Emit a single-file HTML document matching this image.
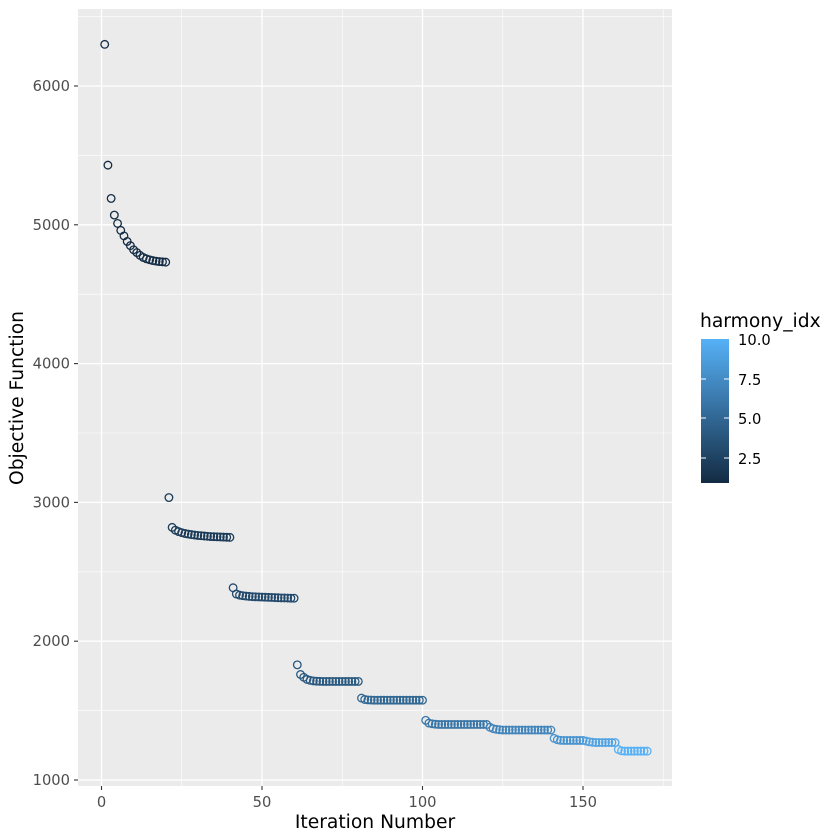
<!DOCTYPE html>
<html><head><meta charset="utf-8"><style>body{margin:0;background:#fff}svg{display:block}</style></head><body>
<svg id="s" width="840" height="840" xmlns="http://www.w3.org/2000/svg" font-family="DejaVu Sans, Liberation Sans, sans-serif">
<defs><linearGradient id="g" x1="0" y1="1" x2="0" y2="0"><stop offset="0" stop-color="#132B43"/><stop offset="1" stop-color="#56B1F7"/></linearGradient></defs>
<rect x="78" y="9" width="594" height="777" fill="#EBEBEB"/>
<g id="grid"></g>
<g id="pts" fill="none" stroke-width="1.3"></g>
<g id="ax" fill="#4D4D4D" font-size="14.7"></g>
<text x="375" y="828" font-size="18.7" text-anchor="middle" fill="#000">Iteration Number</text>
<text transform="translate(23,398) rotate(-90)" font-size="18.7" text-anchor="middle" fill="#000">Objective Function</text>
<text x="700" y="327" font-size="18.7" fill="#000">harmony_idx</text>
<rect x="701" y="339" width="28" height="144" fill="url(#g)"/>
<g stroke="#fff" stroke-width="1"><line x1="701" y1="379" x2="706" y2="379"/><line x1="724" y1="379" x2="729" y2="379"/><line x1="701" y1="418" x2="706" y2="418"/><line x1="724" y1="418" x2="729" y2="418"/><line x1="701" y1="458" x2="706" y2="458"/><line x1="724" y1="458" x2="729" y2="458"/></g>
<g font-size="14.7" fill="#000"><text x="738" y="345">10.0</text><text x="738" y="385">7.5</text><text x="738" y="424">5.0</text><text x="738" y="464">2.5</text></g>
</svg>
<script>
var NS="http://www.w3.org/2000/svg";
function X(v){return 101.5+v*3.21}function Y(v){return 780-(v-1000)*0.1388}
function el(p,t,a,txt){var e=document.createElementNS(NS,t);for(var k in a)e.setAttribute(k,a[k]);if(txt!=null)e.textContent=txt;document.getElementById(p).appendChild(e);return e}
for(var v=-25;v<=200;v+=50){var x=X(v);if(x>78&&x<672)el("grid","line",{x1:x,x2:x,y1:9,y2:786,stroke:"#fff","stroke-width":0.6})}
for(var v=1500;v<=6500;v+=1000)el("grid","line",{x1:78,x2:672,y1:Y(v),y2:Y(v),stroke:"#fff","stroke-width":0.6});
for(var v=0;v<=150;v+=50){var x=X(v);el("grid","line",{x1:x,x2:x,y1:9,y2:786,stroke:"#fff","stroke-width":1.3});el("ax","line",{x1:x,x2:x,y1:786,y2:790,stroke:"#333","stroke-width":1.1});el("ax","text",{x:x,y:807,"text-anchor":"middle"},v)}
for(var v=1000;v<=6000;v+=1000){var y=Y(v);el("grid","line",{x1:78,x2:672,y1:y,y2:y,stroke:"#fff","stroke-width":1.3});el("ax","line",{x1:74,x2:78,y1:y,y2:y,stroke:"#333","stroke-width":1.1});el("ax","text",{x:70,y:y+5,"text-anchor":"end"},v)}
var b1=[6300,5430,5190,5070,5010,4960,4920,4880,4850,4820,4800,4780,4765,4755,4748,4742,4738,4735,4733,4731];
var blocks=[b1,[3035,2820,2800,2790,2782,2776,2772,2768,2765,2762,2760,2758,2756,2754,2753,2752,2751,2750,2749,2748],
[2385,2340,2332,2328,2325,2323,2321,2320,2319,2318,2317,2316,2315,2314,2313,2312,2312,2311,2310,2310],
[1830,1760,1740,1725,1718,1714,1712,1711,1710,1710,1710,1710,1710,1710,1710,1710,1710,1710,1710,1710],
[1590,1580,1577,1576,1575],[1430,1410,1405,1402,1400],[1380,1370,1365,1362,1360],
[1300,1290,1286,1285,1285,1285,1285,1285,1285,1285],[1280,1275,1272,1270,1270,1270,1270,1270,1270,1270],[1220,1210,1208,1208,1208,1208,1208,1208,1208,1208]];
var c0=[0x13,0x2B,0x43],c1=[0x56,0xB1,0xF7];
var it=1;
blocks.forEach(function(b,k){var n=k<7?20:10;var t=k/9;var col="rgb("+c0.map(function(a,i){return Math.round(a+(c1[i]-a)*t)}).join(",")+")";
for(var i=0;i<n;i++){var v=i<b.length?b[i]:b[b.length-1];el("pts","circle",{cx:X(it),cy:Y(v),r:3.8,stroke:col});it++}});
</script>
</body></html>
